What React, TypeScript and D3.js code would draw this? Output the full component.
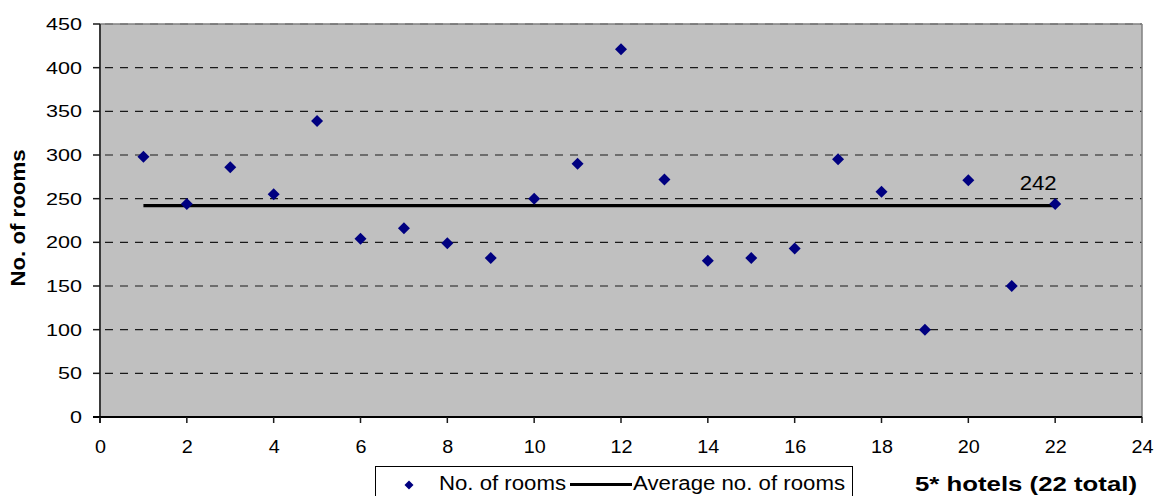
import React from "react";
import * as d3 from "d3";

// Hotel index (1..22) and number of rooms per 5* hotel
const hotels = [1, 2, 3, 4, 5, 6, 7, 8, 9, 10, 11, 12, 13, 14, 15, 16, 17, 18, 19, 20, 21, 22];
const rooms = [298, 244, 286, 255, 339, 204, 216, 199, 182, 250, 290, 421, 272, 179, 182, 193, 295, 258, 100, 271, 150, 244];
const averageRooms = 242;
const xTicks = [0, 2, 4, 6, 8, 10, 12, 14, 16, 18, 20, 22, 24];
const yTicks = [0, 50, 100, 150, 200, 250, 300, 350, 400, 450];

const W = 1157;
const H = 496;
const plot = { left: 100, right: 1142, top: 24, bottom: 417 };
const FONT = "Arial, 'Liberation Sans', Helvetica, sans-serif";

const diamond = (cx: number, cy: number, hw: number, hh: number) =>
  `M${cx},${cy - hh}L${cx + hw},${cy}L${cx},${cy + hh}L${cx - hw},${cy}Z`;

export default function App() {
  const x = d3.scaleLinear().domain([0, 24]).range([plot.left, plot.right]);
  const y = d3.scaleLinear().domain([0, 450]).range([plot.bottom, plot.top]);

  const avgLine = d3
    .line<number>()
    .x((d) => x(d))
    .y(() => y(averageRooms))([hotels[0], hotels[hotels.length - 1]]);

  return (
    <svg
      width={W}
      height={H}
      style={{ position: "absolute", left: 0, top: 0, background: "#fff" }}
      fontFamily={FONT}
    >
      {/* plot area */}
      <rect
        x={plot.left}
        y={plot.top}
        width={plot.right - plot.left}
        height={plot.bottom - plot.top}
        fill="#C0C0C0"
      />
      {/* dashed gridlines */}
      {yTicks
        .filter((t) => t > 0)
        .map((t) => (
          <line
            key={`g${t}`}
            x1={plot.left}
            x2={plot.right}
            y1={y(t)}
            y2={y(t)}
            stroke="#1a1a1a"
            strokeWidth={1.2}
            strokeDasharray="8 7"
            strokeDashoffset={-5}
          />
        ))}
      {/* top and right frame */}
      <line x1={plot.left} x2={plot.right} y1={plot.top} y2={plot.top} stroke="#808080" strokeWidth={1.5} />
      <line x1={plot.right} x2={plot.right} y1={plot.top} y2={plot.bottom} stroke="#808080" strokeWidth={1.5} />

      {/* y axis */}
      <line x1={plot.left} x2={plot.left} y1={plot.top} y2={plot.bottom + 6} stroke="#3a3a3a" strokeWidth={2} />
      {yTicks.map((t) => (
        <g key={`y${t}`}>
          <line x1={plot.left - 7} x2={plot.left} y1={y(t)} y2={y(t)} stroke="#1a1a1a" strokeWidth={1.5} />
          <text
            x={82}
            y={y(t)}
            dy="0.36em"
            textAnchor="end"
            fontSize={17}
            fill="#000"
            textLength={String(t).length * 12}
            lengthAdjust="spacingAndGlyphs"
          >
            {t}
          </text>
        </g>
      ))}

      {/* x axis */}
      <line x1={plot.left - 7} x2={plot.right} y1={plot.bottom} y2={plot.bottom} stroke="#000" strokeWidth={2} />
      {xTicks.map((t) => (
        <g key={`x${t}`}>
          <line x1={x(t)} x2={x(t)} y1={plot.bottom} y2={plot.bottom + 6} stroke="#1a1a1a" strokeWidth={1.5} />
          <text
            x={x(t) + 0.5}
            y={453}
            textAnchor="middle"
            fontSize={17.5}
            fill="#000"
            textLength={String(t).length * 11}
            lengthAdjust="spacingAndGlyphs"
          >
            {t}
          </text>
        </g>
      ))}

      {/* average line */}
      <path d={avgLine ?? ""} stroke="#000" strokeWidth={3.2} fill="none" />
      <text
        x={x(hotels[hotels.length - 1]) - 17}
        y={190}
        textAnchor="middle"
        fontSize={19.5}
        fill="#000"
        textLength={37}
        lengthAdjust="spacingAndGlyphs"
      >
        {averageRooms}
      </text>

      {/* room count markers */}
      {hotels.map((h, i) => (
        <path key={`p${h}`} d={diamond(x(h), y(rooms[i]), 6, 6)} fill="#000080" />
      ))}

      {/* y axis title */}
      <text
        transform="translate(25,218) rotate(-90)"
        textAnchor="middle"
        fontSize={21}
        fontWeight="bold"
        fill="#000"
        textLength={137}
        lengthAdjust="spacingAndGlyphs"
      >
        No. of rooms
      </text>

      {/* x axis title */}
      <text
        x={1137}
        y={491}
        textAnchor="end"
        fontSize={21}
        fontWeight="bold"
        fill="#000"
        textLength={222}
        lengthAdjust="spacingAndGlyphs"
      >
        5* hotels (22 total)
      </text>

      {/* legend */}
      <rect x={375.5} y={466.5} width={477} height={45} fill="#fff" stroke="#000" strokeWidth={1} />
      <path d={diamond(409, 485, 4.5, 4.5)} fill="#000080" />
      <text x={439} y={489.5} fontSize={20} fill="#000" textLength={127} lengthAdjust="spacingAndGlyphs">
        No. of rooms
      </text>
      <line x1={570} x2={632} y1={484.5} y2={484.5} stroke="#000" strokeWidth={3} />
      <text x={633} y={489.5} fontSize={20} fill="#000" textLength={212} lengthAdjust="spacingAndGlyphs">
        Average no. of rooms
      </text>
    </svg>
  );
}
